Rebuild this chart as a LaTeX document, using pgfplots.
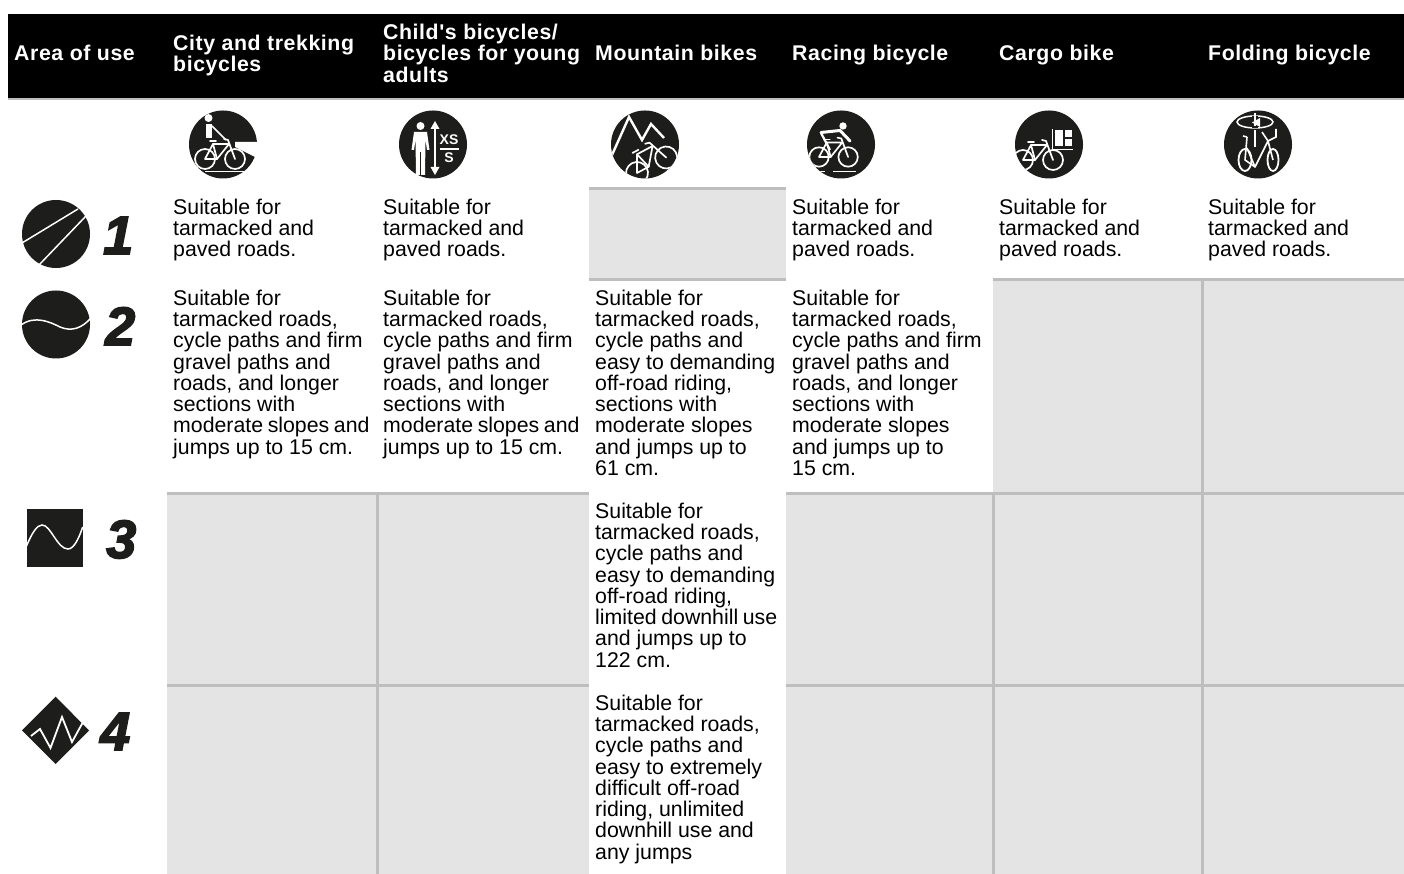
\documentclass[border=0pt]{standalone}
\usepackage{pgfplots}
\pgfplotsset{compat=1.18}
\usepackage{fontspec}
\setmainfont{Liberation Sans}
\newfontfamily\hd[LetterSpace=2.7]{Liberation Sans}
\newfontfamily\numf[BoldItalicFeatures={FakeBold=3}]{Liberation Sans}
\definecolor{ink}{HTML}{1D1D1B}
\definecolor{cellg}{HTML}{E4E4E4}
\definecolor{lineg}{HTML}{BEBEBE}
\newcommand\bodyfont{\fontsize{21.3}{21.3}\selectfont}
\newcommand\hfont{\fontsize{21.3}{21.3}\selectfont\hd\bfseries}
\newcommand\ns{\hskip 4.6pt\relax}
\newcommand\cell[3]{\node[anchor=north west,inner sep=0pt,align=left,font=\bodyfont,text=black] at (axis cs:#1,#2) {#3};}
\newcommand\hcell[3]{\node[anchor=base west,inner sep=0pt,font=\hfont,text=white] at (axis cs:#1,#2) {#3};}
\newcommand\digit[3]{\node[anchor=base west,inner sep=0pt,font=\fontsize{54}{54}\selectfont\numf\bfseries\itshape,text=ink] at (axis cs:#1,#2) {#3};}
\newcommand\bike[1][]{\begin{scope}[#1,draw=white,line width=1.7pt,line cap=round,line join=round]
  \draw (0,0) circle (10) (30,0) circle (10);
  \draw (0,0) -- (12,0) -- (8,-15) -- (0,0);
  \draw (12,0) -- (24,-15) -- (8,-15);
  \draw (30,0) -- (23,-19) -- (19,-20);
  \draw (5,-18) -- (11,-18);
\end{scope}}
\begin{document}
\begin{tikzpicture}
\begin{axis}[at={(0,0)},anchor=south west,scale only axis,width=1404pt,height=874pt,
  xmin=0,xmax=1404,ymin=0,ymax=874,y dir=reverse,hide axis,clip=false]
% header band
\addplot[draw=none,fill=black] coordinates {(8,14) (1404,14) (1404,98) (8,98)} --cycle;
\addplot[lineg,line width=2pt] coordinates {(8,99.5) (1404,99.5)};
% grey cells
\addplot[draw=none,fill=cellg] coordinates {(589,188) (786,188) (786,280) (589,280)} --cycle;
\addplot[draw=none,fill=cellg] coordinates {(993,280) (1404,280) (1404,493) (993,493)} --cycle;
\addplot[draw=none,fill=cellg] coordinates {(167,493) (589,493) (589,874) (167,874)} --cycle;
\addplot[draw=none,fill=cellg] coordinates {(786,493) (1404,493) (1404,874) (786,874)} --cycle;
% separators
\addplot[lineg,line width=3pt] coordinates {(589,188.5) (786,188.5)};
\addplot[lineg,line width=3pt] coordinates {(589,279.5) (786,279.5)};
\addplot[lineg,line width=3pt] coordinates {(993,279.5) (1404,279.5)};
\addplot[lineg,line width=3pt] coordinates {(167,493.5) (589,493.5)};
\addplot[lineg,line width=3pt] coordinates {(786,493.5) (1404,493.5)};
\addplot[lineg,line width=3pt] coordinates {(167,685.5) (589,685.5)};
\addplot[lineg,line width=3pt] coordinates {(786,685.5) (1404,685.5)};
\addplot[lineg,line width=3pt] coordinates {(377.5,493) (377.5,874)};
\addplot[lineg,line width=3pt] coordinates {(993.5,493) (993.5,874)};
\addplot[lineg,line width=3pt] coordinates {(1202.5,280) (1202.5,874)};
% header text
\hcell{14}{60.5}{Area of use}
\hcell{173}{50.7}{City and trekking}
\hcell{173}{71.7}{bicycles}
\hcell{383}{39.5}{Child's bicycles/}
\hcell{383}{60.5}{bicycles for young}
\hcell{383}{82.5}{adults}
\hcell{595}{60.5}{Mountain bikes}
\hcell{792}{60.5}{Racing bicycle}
\hcell{999}{60.5}{Cargo bike}
\hcell{1208}{60.5}{Folding bicycle}
% row 1
\cell{173}{198.5}{Suitable for\\tarmacked and\\paved roads.}
\cell{383}{198.5}{Suitable for\\tarmacked and\\paved roads.}
\cell{792}{198.5}{Suitable for\\tarmacked and\\paved roads.}
\cell{999}{198.5}{Suitable for\\tarmacked and\\paved roads.}
\cell{1208}{198.5}{Suitable for\\tarmacked and\\paved roads.}
% row 2
\cell{173}{289.5}{Suitable for\\tarmacked roads,\\cycle paths and firm\\gravel paths and\\roads, and longer\\sections with\\moderate\ns slopes\ns and\\jumps up to 15 cm.}
\cell{383}{289.5}{Suitable for\\tarmacked roads,\\cycle paths and firm\\gravel paths and\\roads, and longer\\sections with\\moderate\ns slopes\ns and\\jumps up to 15 cm.}
\cell{595}{289.5}{Suitable for\\tarmacked roads,\\cycle paths and\\easy to demanding\\off-road riding,\\sections with\\moderate slopes\\and jumps up to\\61 cm.}
\cell{792}{289.5}{Suitable for\\tarmacked roads,\\cycle paths and firm\\gravel paths and\\roads, and longer\\sections with\\moderate slopes\\and jumps up to\\15 cm.}
% row 3, 4
\cell{595}{502.5}{Suitable for\\tarmacked roads,\\cycle paths and\\easy to demanding\\off-road riding,\\limited\ns downhill\ns use\\and jumps up to\\122 cm.}
\cell{595}{694.5}{Suitable for\\tarmacked roads,\\cycle paths and\\easy to extremely\\difficult off-road\\riding, unlimited\\downhill use and\\any jumps}
% digits
\digit{103}{254}{1}
\digit{105}{345}{2}
\digit{106}{558}{3}
\digit{100}{750}{4}
\end{axis}
\begin{scope}[shift={(0,874pt)},x=1pt,y=-1pt]
\pgfresetboundingbox
\useasboundingbox (0,0) rectangle (1404,874);
% top icons: discs
\foreach \cx in {223,433,645,841,1049,1258} {\fill[ink] (\cx,144.5) circle (34);}
% city bicycle
\fill[white] (235,142) -- (259,142) -- (259,159) -- (235,147) -- cycle;
\bike[shift={(205,159)},scale=1]
\fill[white] (208.5,118) circle (4);
\fill[white] (206,124) rectangle (212,138);
\draw[white,line width=1.6pt] (212,126) -- (226,140);
\draw[white,line width=1.4pt] (205,171.5) -- (244,171.5);
% person with size
\fill[white] (420.5,126) circle (4);
\fill[white] (414,132) -- (427,132) -- (429.5,150) -- (427,150) -- (425.5,140) -- (425,175) -- (421.2,175) -- (421.2,152) -- (419.8,152) -- (419.8,175) -- (416,175) -- (415.5,140) -- (414,150) -- (411.5,150) -- cycle;
\draw[white,line width=1.5pt] (435,126) -- (435,171);
\fill[white] (435,121) -- (439.5,129) -- (430.5,129) -- cycle;
\fill[white] (435,175) -- (439.5,167) -- (430.5,167) -- cycle;
\draw[white,line width=1.3pt] (439.5,149) -- (459,149);
\node[white,font=\fontsize{14}{14}\selectfont\bfseries,inner sep=0pt] at (449,140) {XS};
\node[white,font=\fontsize{14}{14}\selectfont\bfseries,inner sep=0pt] at (449,158) {S};
% mountain
\begin{scope}
\clip (645,144.5) circle (34);
\draw[white,line width=2.4pt,line join=miter] (612,155) -- (629,117) -- (642,140) -- (651,124) -- (664,138);
\bike[shift={(637,173)},rotate=28,scale=1.1]
\end{scope}
% racer
\begin{scope}
\clip (841,144.5) circle (34);
\bike[shift={(819,157)},scale=0.97]
\fill[white] (843,126) circle (3.7);
\draw[white,line width=3pt,line cap=round] (821,132.5) -- (840,130.5) -- (850,141);
\draw[white,line width=2.2pt] (821,133) -- (830,150);
\draw[white,line width=1.4pt] (809,171.5) -- (825,171.5) (833,171.5) -- (856,171.5);
\end{scope}
% cargo
\begin{scope}
\clip (1049,144.5) circle (34);
\bike[shift={(1023,160)},scale=1]
\fill[ink] (1052,150.5) rectangle (1075,129);
\fill[white] (1055,130) rectangle (1063,146);
\fill[white] (1065,130) rectangle (1072,137);
\fill[white] (1065,139) rectangle (1072,146);
\draw[white,line width=1.3pt] (1052.5,129) -- (1052.5,149.5) -- (1073,149.5);
\end{scope}
% folding
\draw[white,line width=1.5pt] (1255,122) ellipse (18 and 6);
\fill[ink] (1252,116) rectangle (1258,128);
\draw[white,line width=2.2pt] (1255,113) -- (1255,126) (1255,130) -- (1255,147);
\fill[white] (1260,118) -- (1260,127) -- (1252,122.5) -- cycle;
\draw[white,line width=1.8pt] (1245,160) ellipse (6.5 and 11) (1273,160) ellipse (5.5 and 11);
\draw[white,line width=1.6pt,line join=round] (1247,137) -- (1245,160) -- (1255,167) -- (1268,141) -- (1273,160);
\draw[white,line width=1.6pt] (1247,137) -- (1243,136) (1262,132) -- (1268,141) -- (1276,137) -- (1276,129);
\draw[white,line width=1.6pt] (1247,148) -- (1255,167);
% row icons
\fill[ink] (56,234) circle (34);
\draw[white,line width=1.5pt] (22,243) -- (78,209);
\draw[white,line width=1.5pt] (39,265) -- (86,216);
\fill[ink] (56,324.5) circle (34);
\draw[white,line width=1.5pt] (21,325) .. controls (35,315) and (50,322) .. (60,327) .. controls (72,332) and (82,328) .. (91,318);
\fill[ink] (26.5,509) rectangle (82.7,566.7);
\draw[white,line width=1.5pt] (26.5,546) .. controls (32,533) and (37,525) .. (42,525) .. controls (51,525) and (57,549) .. (68,549) .. controls (74,549) and (79,538) .. (82.7,527);
\fill[ink] (55.7,696.7) -- (89,730.5) -- (55.7,764) -- (22,730.5) -- cycle;
\draw[white,line width=1.8pt,line join=miter] (31,736) -- (40,729) -- (50.5,748) -- (62,717) -- (72,742) -- (82.5,723);
\end{scope}
\end{tikzpicture}
\end{document}
